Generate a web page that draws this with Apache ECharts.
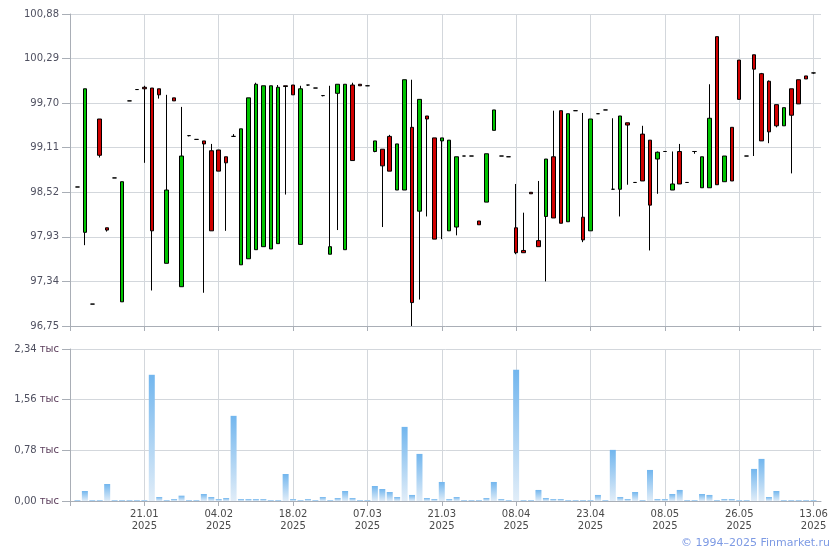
<!DOCTYPE html>
<html><head><meta charset="utf-8">
<script src="https://cdn.jsdelivr.net/npm/echarts@6/dist/echarts.min.js"></script>
<style>html,body{margin:0;padding:0;background:#fff}#c{width:840px;height:550px}</style>
</head><body><div id="c"></div>
<script>
const dates = ['03.01.2025',
'08.01.2025','09.01.2025','10.01.2025','13.01.2025','14.01.2025','15.01.2025','16.01.2025','17.01.2025','20.01.2025','21.01.2025',
'22.01.2025','23.01.2025','24.01.2025','27.01.2025','28.01.2025','29.01.2025','30.01.2025','31.01.2025','03.02.2025','04.02.2025',
'05.02.2025','06.02.2025','07.02.2025','10.02.2025','11.02.2025','12.02.2025','13.02.2025','14.02.2025','17.02.2025','18.02.2025',
'19.02.2025','20.02.2025','21.02.2025','25.02.2025','26.02.2025','27.02.2025','28.02.2025','04.03.2025','06.03.2025','07.03.2025',
'10.03.2025','11.03.2025','12.03.2025','13.03.2025','14.03.2025','17.03.2025','18.03.2025','19.03.2025','20.03.2025','21.03.2025',
'24.03.2025','25.03.2025','26.03.2025','27.03.2025','28.03.2025','31.03.2025','02.04.2025','03.04.2025','07.04.2025','08.04.2025',
'09.04.2025','10.04.2025','11.04.2025','14.04.2025','15.04.2025','16.04.2025','17.04.2025','18.04.2025','21.04.2025','23.04.2025',
'24.04.2025','25.04.2025','28.04.2025','29.04.2025','30.04.2025','02.05.2025','05.05.2025','06.05.2025','07.05.2025','08.05.2025',
'12.05.2025','13.05.2025','14.05.2025','15.05.2025','16.05.2025','19.05.2025','20.05.2025','21.05.2025','22.05.2025','26.05.2025',
'27.05.2025','28.05.2025','29.05.2025','30.05.2025','02.06.2025','04.06.2025','06.06.2025','10.06.2025','11.06.2025','13.06.2025',
'16.06.2025'];

const openP = ['-',
98.59,97.99,97.04,99.49,98.05,98.71,97.07,99.73,99.88,99.91,
99.90,99.89,97.58,99.77,97.27,99.27,99.22,99.20,99.07,99.08,
98.99,99.26,97.56,97.64,97.76,97.80,97.77,97.84,99.93,99.94,
97.83,99.94,99.90,99.80,97.70,99.83,97.76,99.94,99.95,99.93,
99.06,99.09,99.26,98.55,98.55,99.38,98.27,99.53,99.24,99.20,
98.01,98.06,99.00,99.00,98.14,98.39,99.34,99.00,98.99,98.05,
97.75,98.52,97.88,98.20,98.99,99.60,98.13,99.60,98.19,98.01,
99.56,99.61,98.56,98.56,99.44,98.65,99.29,99.21,98.96,99.06,
98.55,99.06,98.65,99.06,98.58,98.58,100.58,98.66,99.38,100.27,
99.00,100.34,100.09,99.99,99.68,99.40,99.89,100.01,100.06,100.10,
'-'];
const closeP = ['-',
98.59,99.89,97.04,99.01,98.02,98.71,98.66,99.73,99.88,99.89,
98.01,99.81,98.55,99.73,99.00,99.27,99.22,99.16,98.01,98.80,
98.91,99.26,99.36,99.77,99.95,99.93,99.93,99.91,99.92,99.81,
99.89,99.94,99.90,99.80,97.80,99.95,99.95,98.94,99.93,99.93,
99.20,98.87,98.80,99.16,100.01,97.06,99.75,99.49,97.90,99.24,
99.21,98.99,99.00,99.00,98.09,99.03,99.61,99.00,98.99,97.72,
97.72,98.50,97.80,98.96,98.18,98.11,99.56,99.60,97.89,99.49,
99.56,99.61,98.56,99.53,99.41,98.65,98.67,98.35,99.05,99.06,
98.63,98.63,98.65,99.06,98.99,99.50,98.62,99.00,98.67,99.75,
99.00,100.15,99.20,99.32,99.40,99.64,99.54,99.69,100.02,100.10,
'-'];
const lowP = ['-',
98.59,97.82,97.04,98.98,98.00,98.71,97.07,99.73,99.88,98.91,
97.22,99.76,97.58,99.73,97.27,99.26,99.22,97.19,98.01,98.80,
98.01,99.26,97.56,97.64,97.76,97.80,97.77,97.84,98.49,99.81,
97.83,99.93,99.90,99.79,97.70,98.02,97.76,98.94,99.93,99.93,
99.05,98.06,98.80,98.55,98.55,96.75,97.10,98.20,97.90,97.90,
98.01,97.95,99.00,99.00,98.09,98.39,99.34,99.00,98.99,97.70,
97.72,98.50,97.80,97.34,98.18,98.11,98.13,99.60,97.86,98.01,
99.56,99.61,98.55,98.20,98.62,98.65,98.67,97.75,98.50,99.06,
98.55,98.63,98.65,99.03,98.58,98.58,98.62,98.66,98.67,99.75,
99.00,99.00,99.20,99.17,99.38,99.40,98.77,99.69,100.02,100.09,
'-'];
const highP = ['-',
98.59,99.89,97.04,99.49,98.05,98.71,98.66,99.73,99.88,99.93,
99.90,99.89,99.81,99.77,99.65,99.27,99.22,99.20,99.16,99.08,
98.99,99.29,99.36,99.77,99.97,99.93,99.93,99.94,99.93,99.94,
99.93,99.94,99.90,99.80,99.93,99.95,99.95,99.97,99.95,99.93,
99.20,99.09,99.28,99.16,100.01,100.01,99.75,99.53,99.24,99.24,
99.21,98.99,99.00,99.00,98.14,99.03,99.61,99.00,98.99,98.63,
98.25,98.52,98.67,98.96,99.60,99.60,99.56,99.60,99.57,99.49,
99.56,99.61,99.50,99.53,99.44,98.65,99.40,99.21,99.06,99.06,
99.06,99.16,98.65,99.06,98.99,99.95,100.58,99.00,99.38,100.27,
99.00,100.34,100.10,100.00,99.68,99.64,99.89,100.01,100.06,100.10,
'-'];
const volume = ['-',
0.015,0.154,0.015,0.015,0.262,0.015,0.015,0.015,0.015,0.015,
1.943,0.062,0.015,0.031,0.082,0.015,0.015,0.108,0.062,0.031,
0.046,1.311,0.031,0.031,0.031,0.031,0.015,0.015,0.416,0.031,
0.015,0.031,0.015,0.062,0.015,0.046,0.154,0.046,0.015,0.015,
0.231,0.185,0.139,0.062,1.141,0.093,0.725,0.046,0.031,0.293,
0.031,0.062,0.015,0.015,0.015,0.046,0.293,0.031,0.015,2.021,
0.015,0.015,0.170,0.046,0.031,0.031,0.015,0.015,0.015,0.015,
0.093,0.015,0.787,0.062,0.031,0.139,0.015,0.478,0.031,0.031,
0.108,0.170,0.015,0.015,0.108,0.093,0.015,0.031,0.031,0.015,
0.015,0.494,0.648,0.062,0.154,0.015,0.015,0.015,0.015,0.015,
'-'];

const priceMin = 96.75, priceMax = 100.88, priceStep = 0.59;
const volMin = 0, volMax = 2.34, volStep = 0.78;
const labelEvery = 10;

const candles = dates.map((d, i) => openP[i] === '-' ? '-' : [openP[i], closeP[i], lowP[i], highP[i]]);

const FONT = 'DejaVu Sans';
const AXIS = '#a9aeb6', GRIDC = '#d3d7dc';
const tickFn = (idx) => idx % labelEvery === 0;
const labFn = (idx) => idx % labelEvery === 0 && idx > 0;

const chart = echarts.init(document.getElementById('c'), null, {renderer: 'canvas'});
chart.setOption({
  animation: false,
  backgroundColor: '#ffffff',
  grid: [
    {left: 70, right: 19, top: 14, height: 312},
    {left: 70, right: 19, top: 349, height: 152}
  ],
  xAxis: [
    {type: 'category', gridIndex: 0, data: dates, boundaryGap: false,
     axisLine: {lineStyle: {color: AXIS}}, axisTick: {show: true, interval: tickFn, length: 5, lineStyle: {color: AXIS}},
     axisLabel: {show: false}, splitLine: {show: true, interval: labFn, lineStyle: {color: GRIDC}}},
    {type: 'category', gridIndex: 1, data: dates, boundaryGap: false,
     axisLine: {lineStyle: {color: AXIS}}, axisTick: {show: true, interval: tickFn, length: 5, lineStyle: {color: AXIS}},
     axisLabel: {show: true, interval: labFn, margin: 7, fontFamily: FONT, fontSize: 10, color: '#4a4a4a', lineHeight: 12,
       formatter: (v) => { const p = v.split('.'); return p[0] + '.' + p[1] + '\n' + p[2]; }},
     splitLine: {show: true, interval: labFn, lineStyle: {color: GRIDC}}}
  ],
  yAxis: [
    {type: 'value', gridIndex: 0, min: priceMin, max: priceMax, interval: priceStep, scale: true,
     axisLine: {show: true, lineStyle: {color: AXIS}}, axisTick: {show: true, length: 8, lineStyle: {color: AXIS}},
     axisLabel: {margin: 11, fontFamily: FONT, fontSize: 10, color: '#4f5060',
       formatter: (v) => v.toFixed(2).replace('.', ',')},
     splitLine: {show: true, lineStyle: {color: GRIDC}}},
    {type: 'value', gridIndex: 1, min: volMin, max: volMax, interval: volStep,
     axisLine: {show: true, lineStyle: {color: AXIS}}, axisTick: {show: true, length: 8, lineStyle: {color: AXIS}},
     axisLabel: {margin: 11, fontFamily: FONT, fontSize: 10, color: '#4f5060',
       formatter: (v) => '{n|' + v.toFixed(2).replace('.', ',') + '} {t|тыс}',
       rich: {n: {fontFamily: FONT, fontSize: 10, color: '#4f5060'}, t: {fontFamily: FONT, fontSize: 10, color: '#5a3c5a'}}},
     splitLine: {show: true, lineStyle: {color: GRIDC}}}
  ],
  series: [
    {type: 'candlestick', xAxisIndex: 0, yAxisIndex: 0, data: candles, barWidth: 4,
     itemStyle: {color: '#00c400', color0: '#d00000', borderColor: '#000000', borderColor0: '#000000', borderColorDoji: '#000000', borderWidth: 1}},
    {type: 'bar', xAxisIndex: 1, yAxisIndex: 1, data: volume, barWidth: 6,
     itemStyle: {color: new echarts.graphic.LinearGradient(0, 0, 0, 1, [{offset: 0, color: '#72b6ee'}, {offset: 1, color: '#e1edf8'}])}}
  ],
  graphic: [
    {type: 'text', right: 10, bottom: 1, style: {text: '© 1994–2025 Finmarket.ru', fill: '#7d9ae4', font: '11px "DejaVu Sans"'}}
  ]
});
</script>
</body></html>
